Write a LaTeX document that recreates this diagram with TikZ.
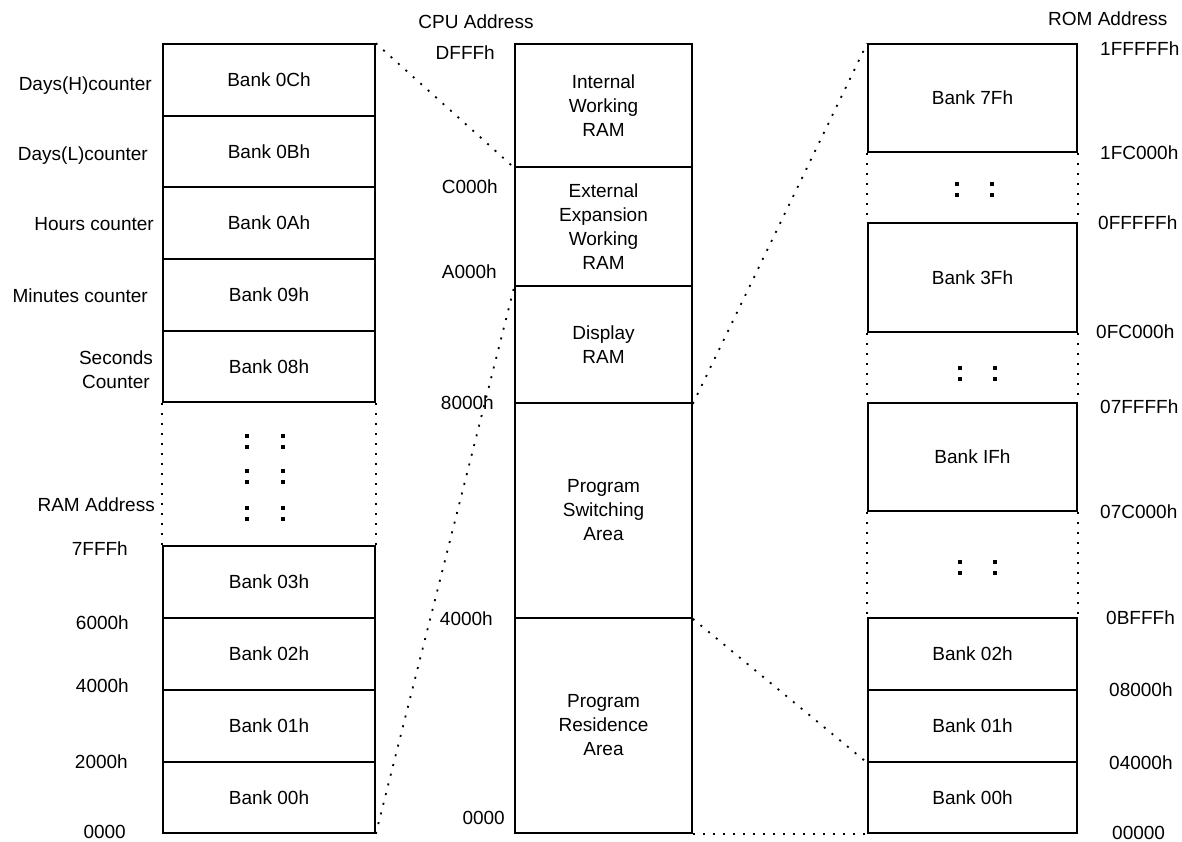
\documentclass[tikz,border=0pt]{standalone}
\usepackage{fontspec}
\setmainfont{Liberation Sans}
\begin{document}
\begin{tikzpicture}[x=1pt,y=-1pt,
  every node/.style={font=\fontsize{19}{24}\selectfont},
  box/.style={draw, line width=1.6pt, rectangle, inner sep=0pt, align=center},
  lbox/.style={box, minimum width=212},
  lbl/.style={inner sep=0pt},
  conn/.style={line width=1.8pt, dash pattern=on 2pt off 8pt},
  dotsq/.style={fill=black}
]
\useasboundingbox (0,0) rectangle (1182,841);

% ---------- left column ----------
\node[lbox, minimum height=72] (L0C) at (269,80) {Bank 0Ch};
\node[lbox, minimum height=71] (L0B) at (269,151.5) {Bank 0Bh};
\node[lbox, minimum height=72] (L0A) at (269,223) {Bank 0Ah};
\node[lbox, minimum height=72] (L09) at (269,295) {Bank 09h};
\node[lbox, minimum height=71] (L08) at (269,366.5) {Bank 08h};
\node[lbox, minimum height=72] (L03) at (269,582) {Bank 03h};
\node[lbox, minimum height=72] (L02) at (269,654) {Bank 02h};
\node[lbox, minimum height=72] (L01) at (269,726) {Bank 01h};
\node[lbox, minimum height=71] (L00) at (269,797.5) {Bank 00h};
\draw[conn] (L08.south west) -- (L03.north west);
\draw[conn] (L08.south east) -- (L03.north east);
\foreach \yy in {436,471,508}{
  \fill[dotsq] (245,\yy-2) rectangle +(4,4);
  \fill[dotsq] (281,\yy-2) rectangle +(4,4);
  \fill[dotsq] (245,\yy+9) rectangle +(4,4);
  \fill[dotsq] (281,\yy+9) rectangle +(4,4);
}

\node[lbl, anchor=base east] (tDH) at (152,90) {Days(H)counter};
\node[lbl, anchor=base east] (tDL) at (148,160) {Days(L)counter};
\node[lbl, anchor=base east] (tHC) at (154,230) {Hours counter};
\node[lbl, anchor=base east] (tMC) at (148,302) {Minutes counter};
\node[lbl, align=center] (tSC) at (116,370) {Seconds\\Counter};
\node[lbl, anchor=base east] (tRA) at (155,511) {RAM Address};
\node[lbl, anchor=base east] (t7F) at (128,555) {7FFFh};
\node[lbl, anchor=base east] (t60) at (129,629) {6000h};
\node[lbl, anchor=base east] (t40) at (129,692) {4000h};
\node[lbl, anchor=base east] (t20) at (128,768) {2000h};
\node[lbl, anchor=base east] (t00) at (126,838) {0000};

% ---------- middle column ----------
\node[box, minimum width=177, minimum height=123] (IW) at (603.5,105.5) {Internal\\Working\\RAM};
\node[box, minimum width=177, minimum height=119] (EX) at (603.5,226.5) {External\\Expansion\\Working\\RAM};
\node[box, minimum width=177, minimum height=117] (DR) at (603.5,344.5) {Display\\RAM};
\node[box, minimum width=177, minimum height=215] (PS) at (603.5,510.5) {Program\\Switching\\Area};
\node[box, minimum width=177, minimum height=215] (PR) at (603.5,725.5) {Program\\Residence\\Area};

\node[lbl, anchor=base] (tCPU) at (476,28) {CPU Address};
\node[lbl, anchor=base east] (tDF) at (495,59) {DFFFh};
\node[lbl, anchor=base east] (tC0) at (498,193) {C000h};
\node[lbl, anchor=base east] (tA0) at (497,278) {A000h};
\node[lbl, anchor=base east] (t80) at (494,409) {8000h};
\node[lbl, anchor=base east] (tM40) at (493,625) {4000h};
\node[lbl, anchor=base east] (tM00) at (505,824) {0000};

% ---------- right column ----------
\node[box, minimum width=209, minimum height=108] (R7F) at (972.5,98) {Bank 7Fh};
\node[box, minimum width=209, minimum height=109] (R3F) at (972.5,277.5) {Bank 3Fh};
\node[box, minimum width=209, minimum height=108] (R1F) at (972.5,457) {Bank IFh};
\node[box, minimum width=209, minimum height=72] (R02) at (972.5,654) {Bank 02h};
\node[box, minimum width=209, minimum height=72] (R01) at (972.5,726) {Bank 01h};
\node[box, minimum width=209, minimum height=71] (R00) at (972.5,797.5) {Bank 00h};
\draw[conn] (R7F.south west) -- (R3F.north west);
\draw[conn] (R7F.south east) -- (R3F.north east);
\draw[conn] (R3F.south west) -- (R1F.north west);
\draw[conn] (R3F.south east) -- (R1F.north east);
\draw[conn] (R1F.south west) -- (R02.north west);
\draw[conn] (R1F.south east) -- (R02.north east);
\foreach \xx/\yy in {957/184, 992/184, 960/368, 995/368, 960/562, 995/562}{
  \fill[dotsq] (\xx-2,\yy-2) rectangle +(4,4);
  \fill[dotsq] (\xx-2,\yy+9) rectangle +(4,4);
}

\node[lbl, anchor=base west] (tROM) at (1048,25) {ROM Address};
\node[lbl, anchor=base west] (r1) at (1100,55) {1FFFFFh};
\node[lbl, anchor=base west] (r2) at (1100,159) {1FC000h};
\node[lbl, anchor=base west] (r3) at (1098,229) {0FFFFFh};
\node[lbl, anchor=base west] (r4) at (1096,338) {0FC000h};
\node[lbl, anchor=base west] (r5) at (1100,413) {07FFFFh};
\node[lbl, anchor=base west] (r6) at (1100,518) {07C000h};
\node[lbl, anchor=base west] (r7) at (1106,624) {0BFFFh};
\node[lbl, anchor=base west] (r8) at (1109,696) {08000h};
\node[lbl, anchor=base west] (r9) at (1109,769) {04000h};
\node[lbl, anchor=base west] (r10) at (1112,839) {00000};

% ---------- connectors ----------
\draw[conn] (L0C.north east) -- (IW.south west);
\draw[conn] (L00.south east) -- (EX.south west);
\draw[conn] (DR.south east) -- (R7F.north west);
\draw[conn] (PS.south east) -- (R01.south west);
\draw[conn] (PR.south east) -- (R00.south west);
\end{tikzpicture}
\end{document}
